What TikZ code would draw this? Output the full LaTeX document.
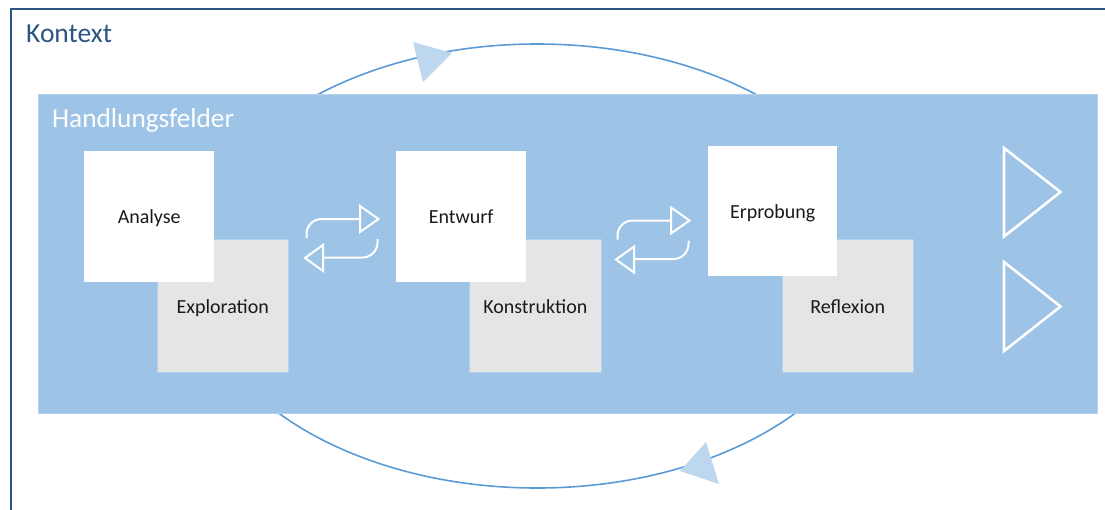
\documentclass[tikz,border=0pt]{standalone}
\usepackage{fontspec}
\setmainfont{Carlito}
\definecolor{framec}{HTML}{2F5680}
\definecolor{titlec}{HTML}{2B5582}
\definecolor{bandc}{HTML}{9DC3E6}
\definecolor{bandedge}{HTML}{B4D2EC}
\definecolor{greyc}{HTML}{E5E5E5}
\definecolor{cyclec}{HTML}{5B9BD5}
\definecolor{headc}{HTML}{BDD7EE}
\definecolor{txt}{HTML}{1A1A1A}
\begin{document}
\begin{tikzpicture}[x=1pt,y=-1pt,
  frame/.style={draw=framec, line width=1.8pt},
  cycleline/.style={draw=cyclec, line width=1.6pt},
  cyclehead/.style={fill=headc},
  boxtext/.style={inner sep=0pt, anchor=north west, text=txt,
    font=\fontsize{20}{24}\selectfont, text height=14.5pt, text depth=0pt},
  whitebox/.style={boxtext, fill=white},
  greybox/.style={boxtext, fill=greyc, draw=bandedge, line width=0.6pt},
  swap/.style={draw=white, line width=2pt, rounded corners=15pt},
  swaphead/.style={draw=white, line width=2pt},
  playhead/.style={draw=white, line width=2.6pt}]
\useasboundingbox (0,0) rectangle (1105,509);
\clip (0,0) rectangle (1105,509);

% outer context frame (runs off the page on the right and bottom)
\draw[frame] (11,9) rectangle (1140,560);
\node[anchor=base west, inner sep=0pt, text=titlec, font=\fontsize{27.5}{32}\selectfont] (kontext) at (26,42.5) {Kontext};

% cycle around the fields of action
\draw[cycleline] (537,266) ellipse [x radius=345, y radius=222];

% fields of action band
\node[fill=bandc, draw=bandedge, line width=0.8pt, anchor=north west, inner sep=0pt,
  minimum width=1059pt, minimum height=319pt] (band) at (38,94) {};
\node[anchor=base west, inner sep=0pt, text=white, font=\fontsize{27.3}{32}\selectfont] (bandlabel) at (52,127) {Handlungsfelder};

% cycle arrowheads
\coordinate (ctop) at (452,53);
\coordinate (cbot) at (680,471);
\fill[cyclehead] (413,42) -- (ctop) -- (423,82) -- cycle;
\fill[cyclehead] (706,442) -- (cbot) -- (719,484) -- cycle;

% phase pairs: grey lower box below the white upper box
\node[greybox, minimum width=131pt, minimum height=133pt] (expl) at (157,239) {Exploration};
\node[whitebox, minimum width=130pt, minimum height=131pt] (anal) at (84,151) {Analyse};
\node[greybox, minimum width=132pt, minimum height=133pt] (kons) at (469,239) {Konstruktion};
\node[whitebox, minimum width=130pt, minimum height=131pt] (entw) at (396,151) {Entwurf};
\node[greybox, minimum width=131pt, minimum height=133pt] (refl) at (782,239) {Reflexion};
\node[whitebox, minimum width=129pt, minimum height=130pt] (erpr) at (708,146) {Erprobung};

% back-and-forth arrows between phases
\foreach \dx/\dy/\nm in {0/0/one, 311/1.5/two}{
  \begin{scope}[shift={(\dx,\dy)}]
    \coordinate (\nm-ta) at (306.5,238);
    \coordinate (\nm-tb) at (360,219);
    \coordinate (\nm-ba) at (377.5,239);
    \coordinate (\nm-bb) at (323,257.5);
    \draw[swap] (\nm-ta) |- (\nm-tb);
    \draw[swaphead] (360,206) -- (378.5,219) -- (360,232) -- cycle;
    \draw[swap] (\nm-ba) |- (\nm-bb);
    \draw[swaphead] (323,245) -- (305,258) -- (323,271) -- cycle;
  \end{scope}
}

% play symbols at the right end of the band
\draw[playhead] (1004,148) -- (1060.5,192) -- (1004,236.5) -- cycle;
\draw[playhead] (1004,262) -- (1060.5,306.5) -- (1004,351) -- cycle;
\end{tikzpicture}
\end{document}
